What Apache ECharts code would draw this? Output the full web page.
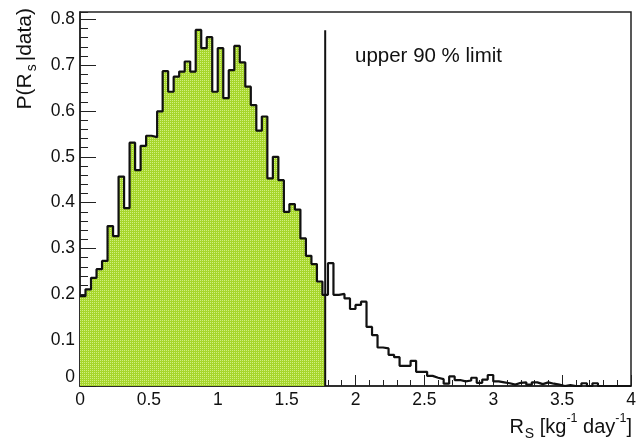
<!DOCTYPE html>
<html>
<head>
<meta charset="utf-8">
<script src="https://cdn.jsdelivr.net/npm/echarts@6/dist/echarts.min.js"></script>
<style>
html, body { margin: 0; padding: 0; background: #fff; }
#chart { width: 643px; height: 442px; }
</style>
</head>
<body>
<div id="chart"></div>
<script>
var myChart = echarts.init(document.getElementById("chart"));

// histogram: 100 bins of 0.04 from 0 to 4
var binMin = 0;
var binWidth = 0.04;
var probs = [
	0.196, 0.211, 0.236, 0.255, 0.273, 0.349, 0.327, 0.457, 0.388, 0.531,
	0.471, 0.524, 0.546, 0.543, 0.599, 0.687, 0.642, 0.675, 0.686, 0.708,
	0.686, 0.777, 0.737, 0.761, 0.642, 0.737, 0.628, 0.689, 0.742, 0.706,
	0.653, 0.613, 0.557, 0.588, 0.453, 0.500, 0.449, 0.380, 0.397, 0.385,
	0.322, 0.284, 0.266, 0.228, 0.199, 0.268, 0.199, 0.201, 0.191, 0.168,
	0.177, 0.184, 0.129, 0.111, 0.084, 0.082, 0.068, 0.063, 0.044, 0.044,
	0.055, 0.031, 0.031, 0.022, 0.018, 0.015, 0.005, 0.021, 0.013, 0.010,
	0.012, 0.018, 0.007, 0.014, 0.024, 0.010, 0.008, 0.006, 0.003, 0.007,
	0.008, 0.003, 0.008, 0.004, 0.008, 0.005, 0.003, 0, 0.002, 0,
	0, 0.006, 0, 0.006, 0, 0, 0, 0, 0, 0
];
var limit90 = 1.78;
var limitLineTop = 0.776;
var limitText = "upper 90 % limit";
var xMax = 4;
var yMax = 0.816;

// bin edges -> step line points
var outline = [];
var filled = [];
for (var i = 0; i < probs.length; i++) {
	var left = binMin + i * binWidth;
	outline.push([left, probs[i]]);
	if (left < limit90) filled.push([left, probs[i]]);
}
outline.push([binMin + probs.length * binWidth, probs[probs.length - 1]]);
filled.push([limit90, probs[filled.length - 1]]);

// ROOT-like dotted fill
var pat = document.createElement("canvas");
pat.width = 2;
pat.height = 2;
var ctx = pat.getContext("2d");
ctx.fillStyle = "#a6d62a";
ctx.fillRect(0, 0, 2, 2);
ctx.fillStyle = "#d0ee80";
ctx.fillRect(0, 0, 1, 1);

var font = "'Liberation Sans', Arial, Helvetica, sans-serif";
var ink = "#111";

var option = {
	animation: false,
	grid: {
		left: 80,
		right: 12,
		top: 12,
		bottom: 56,
		show: true,
		borderColor: "#222",
		borderWidth: 1.5,
		containLabel: false,
		outerBoundsMode: "none"
	},
	xAxis: {
		type: "value",
		min: 0,
		max: xMax,
		interval: 0.5,
		axisLine: { show: true, onZero: false, lineStyle: { color: "#222", width: 1.5 } },
		axisTick: { show: true, inside: true, length: 11, lineStyle: { color: "#222", width: 1 } },
		minorTick: { show: true, splitNumber: 5, length: 6, lineStyle: { color: "#222", width: 1 } },
		splitLine: { show: false },
		minorSplitLine: { show: false },
		axisLabel: { margin: 5, fontSize: 17.5, color: ink, fontFamily: font }
	},
	yAxis: [
		{
			type: "value",
			min: 0,
			max: yMax,
			interval: 0.1,
			position: "left",
			axisLine: { show: true, lineStyle: { color: "#222", width: 1.5 } },
			axisTick: { show: true, inside: true, length: 16, lineStyle: { color: "#222", width: 1 } },
			splitLine: { show: false },
			axisLabel: {
				margin: 5,
				fontSize: 17.5,
				color: ink,
				fontFamily: font,
				showMaxLabel: false,
				verticalAlignMinLabel: "bottom"
			}
		},
		{
			type: "value",
			min: 0,
			max: yMax,
			interval: 0.02,
			position: "left",
			offset: 0,
			axisLine: { show: false },
			axisTick: { show: true, inside: true, length: 8, lineStyle: { color: "#222", width: 1 } },
			splitLine: { show: false },
			axisLabel: { show: false }
		}
	],
	graphic: [
		{
			type: "text",
			left: 355,
			top: 46,
			style: { text: limitText, fontSize: 20.5, fill: ink, fontFamily: font }
		},
		{
			type: "text",
			x: 632,
			y: 427,
			style: {
				text: "{m|R}{sub|S}{m| [kg}{sup|-1}{m| day}{sup|-1}{m|]}",
				align: "right",
				verticalAlign: "middle",
				fill: ink,
				fontFamily: font,
				rich: {
					m: { fontSize: 20, lineHeight: 22, fontFamily: font, fill: ink },
					sub: { fontSize: 14, lineHeight: 14, padding: [14, 0, 0, 1], fontFamily: font, fill: ink },
					sup: { fontSize: 12.5, lineHeight: 12, padding: [0, 0, 16, 0], fontFamily: font, fill: ink }
				}
			}
		},
		{
			type: "text",
			x: 25,
			y: 8,
			rotation: Math.PI / 2,
			style: {
				text: "{m|P(R}{sub|s}{m||data)}",
				align: "right",
				verticalAlign: "middle",
				fill: ink,
				fontFamily: font,
				rich: {
					m: { fontSize: 21, lineHeight: 24, fontFamily: font, fill: ink },
					sub: { fontSize: 14, lineHeight: 14, padding: [15, 3, 0, 2], fontFamily: font, fill: ink }
				}
			}
		}
	],
	series: [
		{
			name: "fill",
			type: "line",
			step: "end",
			symbol: "none",
			silent: true,
			lineStyle: { width: 0 },
			areaStyle: { color: { image: pat, repeat: "repeat" }, opacity: 1 },
			data: filled,
			z: 1
		},
		{
			name: "posterior",
			type: "line",
			step: "end",
			symbol: "none",
			lineStyle: { color: ink, width: 2.2 },
			data: outline,
			z: 2
		},
		{
			name: "limit",
			type: "line",
			symbol: "none",
			lineStyle: { color: ink, width: 2 },
			data: [[limit90, 0], [limit90, limitLineTop]],
			z: 3
		}
	]
};

myChart.setOption(option);
</script>
</body>
</html>
